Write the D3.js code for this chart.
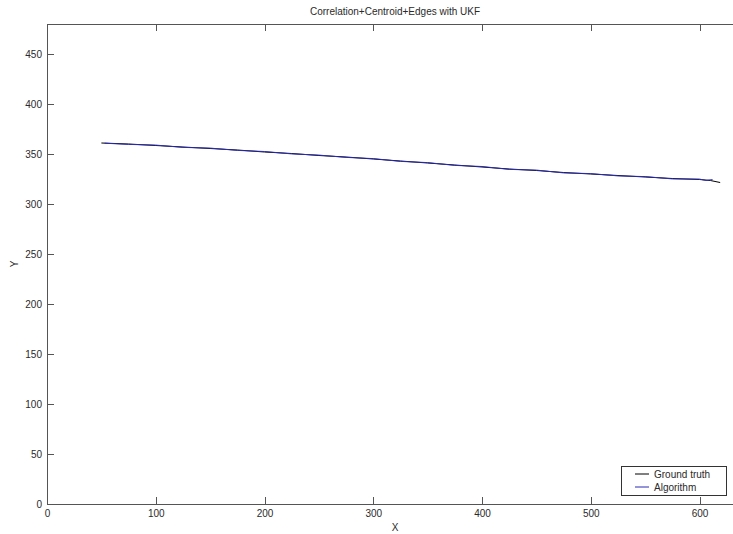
<!DOCTYPE html>
<html>
<head>
<meta charset="utf-8">
<script src="https://d3js.org/d3.v7.min.js"></script>
<style>
  body { margin: 0; background: #fff; }
  svg text { font-family: "Liberation Sans", Arial, Helvetica, sans-serif; fill: #2a2a2a; }
  .axis path, .axis line { stroke: #555; shape-rendering: crispEdges; }
</style>
</head>
<body>
<div id="chart"></div>
<script>
// Data (image coordinates, 640x480 frame)
var gtX = [50, 75, 100, 125, 150, 175, 200, 225, 250, 275, 300, 325, 350, 375, 400, 425, 450, 475, 500, 525, 550, 575, 600, 610, 619];
var gtY = [361, 360, 358.5, 357, 355.5, 354, 352, 350.5, 348.5, 347, 345, 343, 341, 339, 337, 335, 333.5, 331.5, 330, 328.5, 327, 325.5, 324.5, 323.5, 321.5];

var algX = [53, 75, 100, 125, 150, 175, 200, 225, 250, 275, 300, 325, 350, 375, 400, 425, 450, 475, 500, 525, 550, 575, 600, 606, 612];
var algY = [360.8, 359.6, 358.9, 356.6, 355.9, 353.6, 352.5, 350.1, 348.9, 346.6, 345.4, 342.6, 341.4, 338.6, 337.5, 334.6, 333.9, 331.1, 330.4, 328.1, 327.4, 325.1, 324.9, 323.6, 324.4];

var xTicks = [0, 100, 200, 300, 400, 500, 600];
var yTicks = [0, 50, 100, 150, 200, 250, 300, 350, 400, 450];
var seriesNames = ["Ground truth", "Algorithm"];
var seriesColors = ["#000000", "#2a2ab8"];

var W = 733, H = 534;
var box = {left: 47, right: 743, top: 24, bottom: 504};

var svg = d3.select("#chart").append("svg")
    .attr("width", W)
    .attr("height", H);

var xScale = d3.scaleLinear().domain([0, 640]).range([box.left, box.right]);
var yScale = d3.scaleLinear().domain([0, 480]).range([box.bottom, box.top]);

// axes, MATLAB style: ticks pointing inwards, box all round
svg.append("g").attr("class", "axis")
    .attr("transform", "translate(0," + box.bottom + ")")
    .call(d3.axisBottom(xScale).tickValues(xTicks).tickSizeInner(-7).tickSizeOuter(0).tickPadding(6))
    .selectAll("text").style("font-size", "10px");

svg.append("g").attr("class", "axis")
    .attr("transform", "translate(0," + box.top + ")")
    .call(d3.axisTop(xScale).tickValues(xTicks).tickSizeInner(-7).tickSizeOuter(0).tickFormat(""));

svg.append("g").attr("class", "axis")
    .attr("transform", "translate(" + box.left + ",0)")
    .call(d3.axisLeft(yScale).tickValues(yTicks).tickSizeInner(-7).tickSizeOuter(0).tickPadding(5))
    .selectAll("text").style("font-size", "10px");

svg.append("g").attr("class", "axis")
    .attr("transform", "translate(" + box.right + ",0)")
    .call(d3.axisRight(yScale).tickValues(yTicks).tickSizeInner(-7).tickSizeOuter(0).tickFormat(""));

svg.selectAll(".axis .domain").style("stroke", "#555");

// lines
var line = d3.line()
    .x(function (d) { return xScale(d[0]); })
    .y(function (d) { return yScale(d[1]); });

var gtData = gtX.map(function (x, i) { return [x, gtY[i]]; });
var algData = algX.map(function (x, i) { return [x, algY[i]]; });

svg.append("path").datum(gtData)
    .attr("d", line)
    .attr("fill", "none")
    .attr("stroke", seriesColors[0])
    .attr("stroke-width", 1);

svg.append("path").datum(algData)
    .attr("d", line)
    .attr("fill", "none")
    .attr("stroke", seriesColors[1])
    .attr("stroke-width", 1);

// title and labels
svg.append("text")
    .attr("x", (box.left + box.right) / 2)
    .attr("y", 15)
    .attr("text-anchor", "middle")
    .style("font-size", "10px")
    .text("Correlation+Centroid+Edges with UKF");

svg.append("text")
    .attr("x", (box.left + box.right) / 2)
    .attr("y", 531)
    .attr("text-anchor", "middle")
    .style("font-size", "10px")
    .text("X");

svg.append("text")
    .attr("transform", "translate(18," + ((box.top + box.bottom) / 2) + ") rotate(-90)")
    .attr("text-anchor", "middle")
    .style("font-size", "10px")
    .text("Y");

// legend
var legend = svg.append("g").attr("transform", "translate(621,466)");
legend.append("rect")
    .attr("width", 105).attr("height", 29)
    .attr("fill", "#fff")
    .attr("stroke", "#333")
    .attr("shape-rendering", "crispEdges");

seriesNames.forEach(function (name, i) {
    var ly = 8 + i * 13;
    legend.append("line")
        .attr("x1", 14).attr("x2", 28)
        .attr("y1", ly).attr("y2", ly)
        .attr("stroke", seriesColors[i])
        .attr("stroke-width", 1);
    legend.append("text")
        .attr("x", 33).attr("y", ly + 3.5)
        .style("font-size", "10px")
        .text(name);
});
</script>
</body>
</html>
